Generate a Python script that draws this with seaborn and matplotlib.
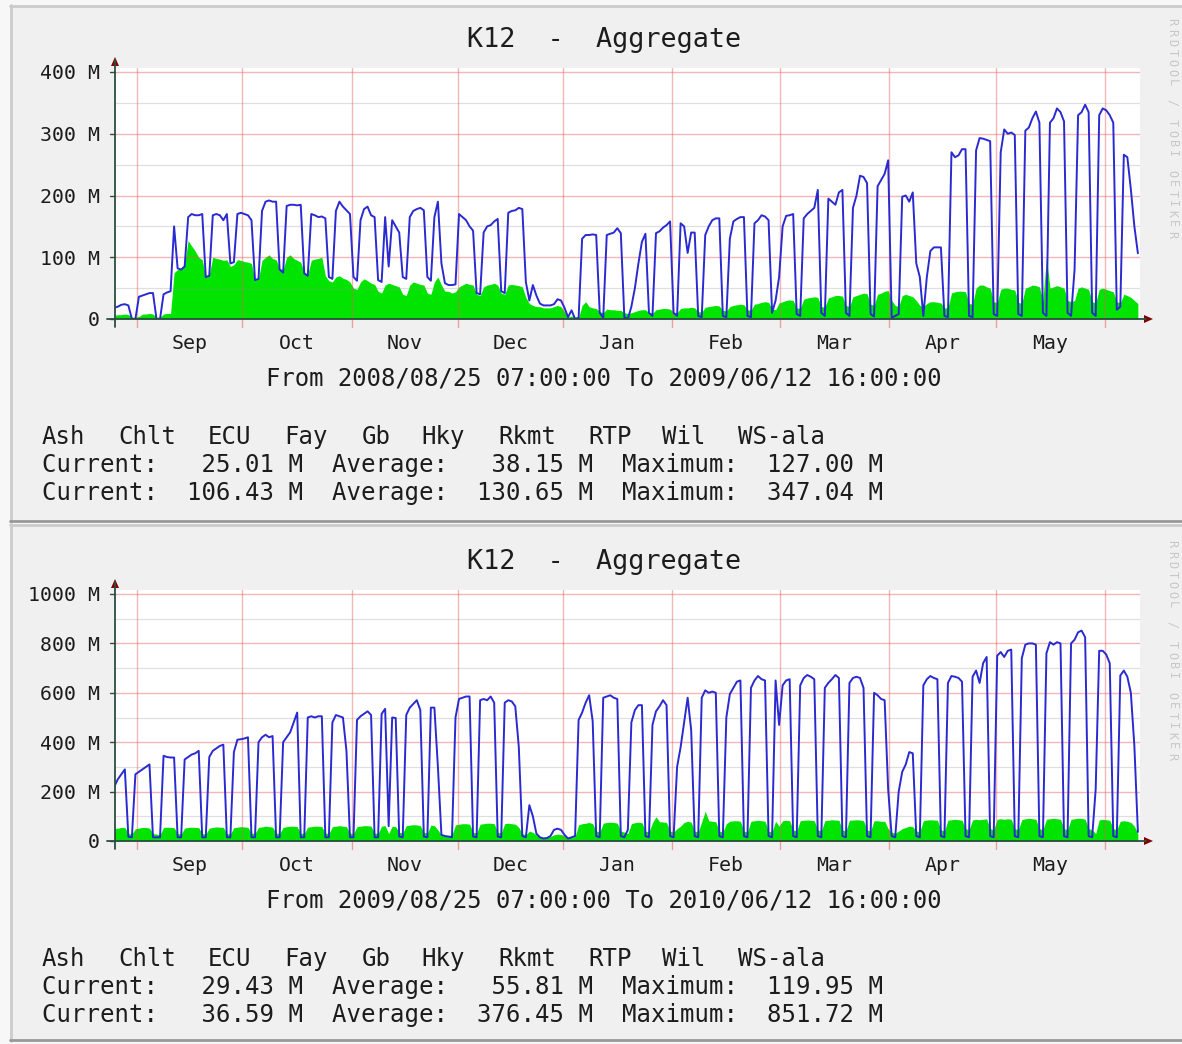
import numpy as np
import pandas as pd
import matplotlib
matplotlib.use("Agg")
import matplotlib.pyplot as plt
import seaborn as sns
from matplotlib.patches import Rectangle, Polygon
from matplotlib.lines import Line2D

# daily values in M, first chart: Mon 2008/08/25 .. Fri 2009/06/12
blue_0809 = [
    18, 20, 23, 24, 22, 0, 0,
    36, 38, 40, 42, 42, 0, 0,
    40, 43, 45, 150, 82, 80, 85,
    165, 170, 168, 168, 170, 68, 70,
    168, 170, 168, 160, 170, 90, 92,
    170, 172, 170, 168, 160, 63, 65,
    175, 190, 192, 190, 190, 80, 75,
    183, 185, 185, 184, 185, 74, 70,
    170, 168, 165, 166, 163, 68, 65,
    175, 190, 182, 176, 170, 68, 62,
    160, 178, 182, 168, 165, 63, 60,
    165, 85, 160, 150, 140, 68, 65,
    165, 175, 178, 180, 176, 68, 62,
    165, 190, 90, 58, 55, 55, 56,
    170, 165, 160, 150, 143, 42, 40,
    140, 150, 152, 158, 162, 45, 42,
    172, 175, 176, 180, 178, 60, 30,
    55, 38, 25, 22, 22, 22, 24,
    32, 30, 18, 3, 14, 0, 2,
    130, 136, 136, 137, 136, 10, 2,
    136, 138, 140, 147, 139, 3, 0,
    20, 50, 90, 125, 138, 10, 5,
    139, 142, 148, 152, 158, 10, 5,
    155, 150, 107, 140, 140, 5, 3,
    136, 150, 160, 163, 163, 5, 3,
    130, 158, 162, 165, 165, 5, 3,
    155, 160, 168, 166, 160, 10, 30,
    68, 150, 167, 168, 170, 8, 5,
    163, 170, 175, 180, 209, 10, 5,
    195, 190, 185, 205, 209, 10, 5,
    180, 200, 232, 230, 220, 8, 4,
    215, 225, 235, 257, 2, 5, 8,
    198, 200, 190, 205, 90, 68, 5,
    68, 110, 116, 116, 116, 5, 3,
    270, 262, 265, 275, 275, 5, 3,
    273, 293, 292, 290, 288, 8, 5,
    270, 307, 300, 302, 298, 8, 5,
    305, 310, 325, 336, 318, 10, 5,
    318, 325, 341, 335, 320, 10, 5,
    80, 330, 335, 347.04, 335, 10, 5,
    330, 341, 338, 330, 318, 15, 20,
    266, 262, 210, 150, 106.43,
]
green_0809 = [
    6, 7, 7, 8, 7, 3, 3,
    4, 8, 8, 9, 8, 3, 3,
    8, 9, 9, 75, 80, 82, 90,
    127, 118, 110, 100, 96, 68, 72,
    100, 98, 97, 95, 96, 85, 88,
    96, 95, 93, 92, 90, 63, 65,
    95, 100, 104, 98, 96, 82, 80,
    100, 104, 98, 95, 92, 75, 72,
    95, 97, 98, 100, 70, 62, 60,
    68, 70, 66, 64, 60, 50, 48,
    60, 65, 62, 58, 56, 45, 42,
    55, 58, 56, 54, 52, 40, 38,
    55, 60, 58, 56, 55, 42, 40,
    60, 68, 55, 45, 45, 42, 44,
    52, 55, 58, 56, 55, 40, 38,
    52, 55, 56, 58, 55, 42, 40,
    55, 56, 55, 54, 52, 35, 25,
    22, 20, 20, 18, 18, 18, 20,
    22, 20, 12, 3, 5, 3, 3,
    22, 28, 20, 18, 17, 12, 10,
    16, 15, 15, 14, 14, 10, 9,
    10, 12, 14, 15, 15, 10, 9,
    15, 16, 17, 17, 16, 11, 10,
    17, 18, 18, 19, 18, 12, 11,
    19, 20, 21, 22, 21, 14, 13,
    20, 22, 23, 24, 23, 15, 14,
    24, 25, 27, 28, 27, 16, 15,
    26, 28, 30, 31, 30, 18, 17,
    32, 34, 35, 36, 35, 20, 19,
    34, 36, 38, 38, 37, 22, 20,
    36, 38, 40, 42, 41, 24, 22,
    40, 42, 45, 46, 30, 22, 20,
    38, 40, 38, 36, 30, 22, 20,
    25, 28, 28, 27, 26, 18, 18,
    42, 44, 45, 45, 44, 25, 24,
    50, 55, 55, 52, 50, 28, 26,
    48, 50, 50, 48, 47, 27, 25,
    50, 52, 55, 54, 52, 30, 100,
    50, 52, 54, 52, 50, 30, 28,
    30, 50, 52, 50, 48, 28, 26,
    48, 50, 48, 46, 44, 28, 26,
    40, 38, 35, 30, 25.01,
]

# second chart: Tue 2009/08/25 .. Sat 2010/06/12
blue_0910 = [
    220, 250, 270, 290, 17, 15,
    270, 280, 290, 300, 310, 15, 15,
    15, 345, 340, 338, 338, 15, 15,
    330, 340, 350, 355, 365, 15, 15,
    340, 365, 375, 385, 390, 15, 15,
    360, 410, 412, 415, 420, 15, 15,
    400, 420, 430, 420, 425, 15, 15,
    400, 420, 440, 480, 520, 15, 15,
    500, 505, 500, 505, 505, 15, 15,
    480, 510, 505, 500, 365, 15, 15,
    490, 505, 515, 525, 510, 15, 15,
    515, 535, 60, 500, 498, 18, 15,
    510, 540, 555, 570, 530, 18, 15,
    540, 540, 300, 25, 20, 18, 15,
    500, 575, 580, 585, 585, 18, 15,
    570, 575, 570, 585, 560, 18, 15,
    560, 570, 565, 545, 380, 20, 15,
    145, 100, 30, 15, 10, 12, 20,
    45, 50, 45, 25, 10, 15, 20,
    490, 520, 560, 590, 485, 20, 15,
    580, 585, 590, 580, 575, 20, 15,
    45, 480, 530, 550, 550, 20, 15,
    470, 525, 545, 570, 550, 20, 15,
    300, 380, 480, 580, 450, 20, 15,
    580, 610, 600, 605, 600, 20, 15,
    500, 595, 620, 645, 650, 20, 15,
    620, 650, 668, 655, 650, 20, 15,
    650, 470, 630, 650, 655, 20, 15,
    630, 660, 672, 665, 655, 20, 15,
    620, 640, 655, 672, 660, 20, 15,
    640, 660, 665, 660, 620, 20, 15,
    600, 590, 575, 570, 210, 20, 15,
    200, 280, 310, 360, 355, 20, 15,
    630, 655, 668, 660, 655, 20, 15,
    640, 668, 665, 660, 645, 20, 15,
    665, 690, 640, 720, 745, 20, 15,
    750, 765, 745, 770, 775, 20, 15,
    740, 795, 800, 800, 795, 20, 15,
    760, 805, 795, 805, 800, 20, 15,
    800, 815, 845, 851.72, 825, 20, 15,
    210, 770, 770, 755, 720, 20, 15,
    670, 690, 665, 600, 385, 36.59,
]
green_0910 = [
    50, 52, 55, 55, 30, 28,
    50, 52, 55, 55, 52, 30, 28,
    25, 55, 56, 55, 54, 30, 28,
    52, 55, 56, 55, 54, 30, 28,
    52, 55, 57, 56, 55, 30, 28,
    54, 56, 58, 57, 55, 32, 30,
    55, 57, 60, 58, 56, 32, 30,
    55, 58, 60, 60, 58, 32, 30,
    56, 58, 60, 60, 58, 32, 30,
    58, 60, 62, 60, 58, 32, 30,
    58, 60, 62, 62, 60, 32, 30,
    60, 62, 30, 60, 58, 35, 32,
    62, 64, 66, 65, 62, 35, 32,
    64, 62, 45, 22, 20, 22, 25,
    65, 68, 70, 70, 68, 35, 32,
    68, 70, 72, 72, 70, 35, 32,
    70, 72, 70, 68, 55, 30, 25,
    40, 35, 25, 18, 15, 15, 18,
    25, 28, 26, 22, 15, 15, 18,
    65, 70, 72, 75, 70, 40, 36,
    72, 75, 76, 75, 72, 40, 36,
    30, 70, 74, 76, 74, 40, 36,
    74, 98, 78, 77, 75, 40, 36,
    50, 60, 75, 80, 76, 40, 36,
    78, 119.95, 82, 80, 78, 40, 36,
    70, 80, 82, 82, 80, 40, 36,
    80, 82, 84, 82, 80, 40, 36,
    80, 60, 82, 84, 82, 45, 40,
    82, 84, 85, 84, 82, 45, 40,
    82, 84, 86, 85, 84, 45, 40,
    84, 85, 86, 85, 82, 45, 40,
    82, 82, 80, 80, 50, 35, 32,
    40, 50, 55, 60, 58, 40, 38,
    82, 85, 86, 85, 84, 45, 40,
    84, 86, 88, 86, 84, 50, 45,
    85, 88, 86, 88, 90, 50, 45,
    88, 90, 88, 90, 88, 50, 45,
    86, 90, 92, 90, 88, 50, 45,
    88, 90, 92, 90, 88, 50, 45,
    88, 90, 92, 92, 88, 50, 45,
    30, 85, 88, 86, 84, 50, 45,
    80, 82, 80, 75, 60, 29.43,
]

month_names = ["Sep", "Oct", "Nov", "Dec", "Jan", "Feb", "Mar", "Apr", "May"]
month_lines = [6.45, 36.2, 67.6, 97.6, 127.5, 158.5, 189.2, 220.2, 250.6, 281.6]
sites = ["Ash", "Chlt", "ECU", "Fay", "Gb", "Hky", "Rkmt", "RTP", "Wil", "WS-ala"]
ranges = ["From 2008/08/25 07:00:00 To 2009/06/12 16:00:00",
          "From 2009/08/25 07:00:00 To 2010/06/12 16:00:00"]
stats_0809 = [(25.01, 38.15, 127.00), (106.43, 130.65, 347.04)]
stats_0910 = [(29.43, 55.81, 119.95), (36.59, 376.45, 851.72)]

sns.set_style("white")
plt.rcParams['font.family'] = ['DejaVu Sans Mono']

W, H = 1182, 1044
fig = plt.figure(figsize=(W / 100, H / 100), dpi=100)
fig.patch.set_facecolor("#f7f7f7")

def fy(y):
    return 1 - y / H

def ftext(x, y, s, size, ha="left", **kw):
    kw.setdefault("color", "#1c1c1c")
    fig.text(x / W, fy(y), s, fontsize=size, ha=ha, va="baseline", **kw)

def fline(xs, ys, **kw):
    fig.add_artist(Line2D([x / W for x in xs], [fy(y) for y in ys], **kw))

site_x = [42, 118, 208, 284, 362, 421, 498, 588, 662, 738]
GRID = "#e75f5f"
AXIS = "#2c4d43"
ARROW = "#7f0000"


def panel(dy, top, bot, blue, green, vmax, step, date_text, stats):
    # background frame with shaded edges
    fig.add_artist(Rectangle((10 / W, fy(bot)), (W - 10) / W, (bot - top) / H,
                             transform=fig.transFigure, facecolor="#f0f0f0",
                             edgecolor="none", zorder=0))
    fline([10, W], [top + 1, top + 1], color="#cbcbcb", lw=2)
    fline([11, 11], [top, bot], color="#cbcbcb", lw=2)
    fline([10, W], [bot - 1, bot - 1], color="#999999", lw=2)

    y0 = 319 + dy
    ax = fig.add_axes([115 / W, fy(y0), 1025 / W, 251 / H])
    ax.set_facecolor("white")
    ax.set_xlim(0.2, 291.6)
    ax.set_ylim(0, vmax * 251 / 247)
    for s in ax.spines.values():
        s.set_visible(False)
    ax.set_xticks([])
    ax.set_yticks([])

    df = pd.DataFrame({"day": np.arange(len(blue)), "blue": blue, "green": green})
    ax.fill_between(df["day"], df["green"], color="#00e400", lw=0, zorder=2)
    for v in np.arange(step / 2, vmax, step):
        ax.axhline(v, color="#8f8f8f", alpha=0.28, lw=0.9, zorder=2.5)
    for v in np.arange(step, vmax + 1, step):
        ax.axhline(v, color=GRID, alpha=0.45, lw=1.0, zorder=2.5)
    for d in month_lines:
        ax.axvline(d, color=GRID, alpha=0.45, lw=1.0, zorder=2.5)
    sns.lineplot(data=df, x="day", y="blue", ax=ax, color="#2a2ad0", lw=1.4, zorder=3)
    ax.set_xlabel("")
    ax.set_ylabel("")

    # month labels centred between the grid lines
    for i, name in enumerate(month_names):
        mid = (month_lines[i] + month_lines[i + 1]) / 2
        ax.text(mid, -(349 - 319) / 251, name, transform=ax.get_xaxis_transform(),
                ha="center", va="baseline", fontsize=14.35, color="#1c1c1c")
    for d in month_lines:
        xp = 115 + (d - 0.2) * 1025 / 291.4
        fline([xp, xp], [y0, y0 + 8], color="#e9a0a0", lw=1.0)

    # y labels and ticks
    for v in np.arange(0, vmax + 1, step):
        yp = y0 - v * 247 / vmax
        lab = "0" if v == 0 else f"{int(v)} M"
        ftext(100, yp + 7.3, lab, 14.35, ha="right")
        fline([110, 115], [yp, yp], color=AXIS, lw=1.0)

    # axes with arrows
    fline([115, 115], [y0 + 8, 60 + dy], color=AXIS, lw=1.3)
    fline([107, 1146], [y0, y0], color=AXIS, lw=1.3)
    fig.add_artist(Polygon([(115 / W, fy(57 + dy)), (111 / W, fy(66 + dy)), (119 / W, fy(66 + dy))],
                           closed=True, transform=fig.transFigure, color=ARROW, lw=0))
    fig.add_artist(Polygon([(1153 / W, fy(y0)), (1144 / W, fy(y0 - 4)), (1144 / W, fy(y0 + 4))],
                           closed=True, transform=fig.transFigure, color=ARROW, lw=0))

    # texts
    ftext(604, 47 + dy, "K12  -  Aggregate", 19.25, ha="center")
    ftext(603.5, 385.5 + dy, date_text, 17.2, ha="center")
    for name, xp in zip(sites, site_x):
        ftext(xp, 443.8 + dy, name, 17.3)
    for j, (cur, avg, mx) in enumerate(stats):
        line = f"Current:{cur:8.2f} M  Average:{avg:8.2f} M  Maximum:{mx:8.2f} M"
        ftext(42, 471.8 + 28 * j + dy, line, 17.3)

    # vertical watermark
    mark = "RRDTOOL / TOBI OETIKER"
    for i, ch in enumerate(mark):
        if ch != " ":
            fig.text(1172 / W, fy(22 + i * 10.1 + dy), ch, rotation=270, ha="center",
                     va="center", fontsize=8.5, color="#c8c8c8")


panel(0, 5, 522, blue_0809, green_0809, 400, 100, ranges[0], stats_0809)
panel(522, 524, 1041, blue_0910, green_0910, 1000, 200, ranges[1], stats_0910)

fig.savefig("out.png", dpi=100, facecolor=fig.get_facecolor())
